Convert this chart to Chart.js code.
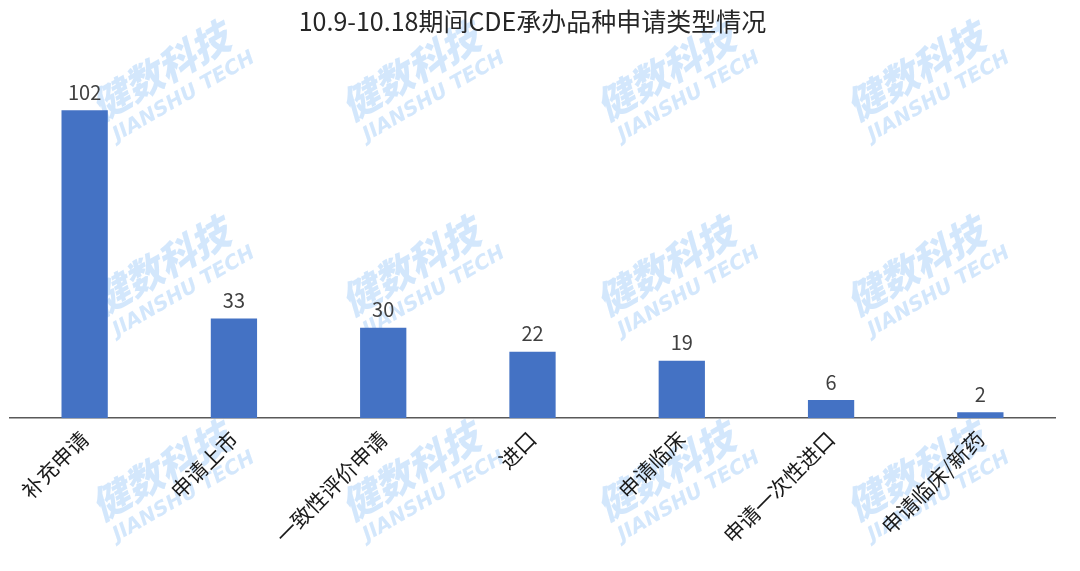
<!DOCTYPE html>
<html>
<head>
<meta charset="utf-8">
<script src="https://cdn.jsdelivr.net/npm/chart.js@4"></script>
<style>
  html, body { margin: 0; padding: 0; background: #fff; }
  #wrap { width: 1080px; height: 571px; position: relative; }
</style>
</head>
<body>
<div id="wrap"><canvas id="chart"></canvas></div>
<script>
const title = "10.9-10.18期间CDE承办品种申请类型情况";
const categories = ["补充申请", "申请上市", "一致性评价申请", "进口", "申请临床", "申请一次性进口", "申请临床/新药"];
const counts = [102, 33, 30, 22, 19, 6, 2];

const FONT = "'Noto Sans CJK SC', 'Noto Sans', sans-serif";

// faint watermark tiles, drawn behind everything
const watermark = {
  id: "watermark",
  beforeDraw(chart) {
    const c = chart.ctx;
    const spots = [];
    [165, 415, 670, 920].forEach((x) => [80, 275, 480].forEach((y) => spots.push([x, y])));
    c.save();
    c.fillStyle = "rgba(200, 225, 251, 0.8)";
    spots.forEach(([x, y]) => {
      c.save();
      c.translate(x, y);
      c.rotate(-Math.PI / 6);
      c.textAlign = "center";
      c.textBaseline = "middle";
      c.font = `italic 900 38px ${FONT}`;
      c.fillText("健数科技", 0, -10);
      c.font = `italic bold 20px 'DejaVu Sans', sans-serif`;
      c.fillText("JIANSHU TECH", 8, 24);
      c.restore();
    });
    c.restore();
  },
};

// value labels above each bar
const valueLabels = {
  id: "valueLabels",
  afterDatasetsDraw(chart) {
    const c = chart.ctx;
    const meta = chart.getDatasetMeta(0);
    c.save();
    c.fillStyle = "#404040";
    c.font = `20px ${FONT}`;
    c.textAlign = "center";
    c.textBaseline = "bottom";
    meta.data.forEach((bar, i) => {
      c.fillText(counts[i], bar.x, bar.y - 8);
    });
    c.restore();
  },
};

new Chart(document.getElementById("chart"), {
  type: "bar",
  data: {
    labels: categories,
    datasets: [
      {
        data: counts,
        backgroundColor: "#4472c4",
        barPercentage: 0.31,
        categoryPercentage: 1,
      },
    ],
  },
  options: {
    responsive: true,
    maintainAspectRatio: false,
    animation: false,
    layout: { padding: { left: 10, right: 25, top: 0, bottom: 15 } },
    plugins: {
      legend: { display: false },
      tooltip: { enabled: false },
      title: {
        display: true,
        text: title,
        color: "#262626",
        font: { family: FONT, size: 25, weight: "normal" },
        padding: { top: 6, bottom: 50 },
      },
    },
    scales: {
      y: { display: false, min: 0, max: 110 },
      x: {
        grid: { display: false, drawTicks: false },
        border: { display: true, color: "#595959", width: 1.5 },
        ticks: {
          color: "#1a1a1a",
          font: { family: FONT, size: 21 },
          minRotation: 45,
          maxRotation: 45,
          padding: 8,
        },
      },
    },
  },
  plugins: [watermark, valueLabels],
});
</script>
</body>
</html>
